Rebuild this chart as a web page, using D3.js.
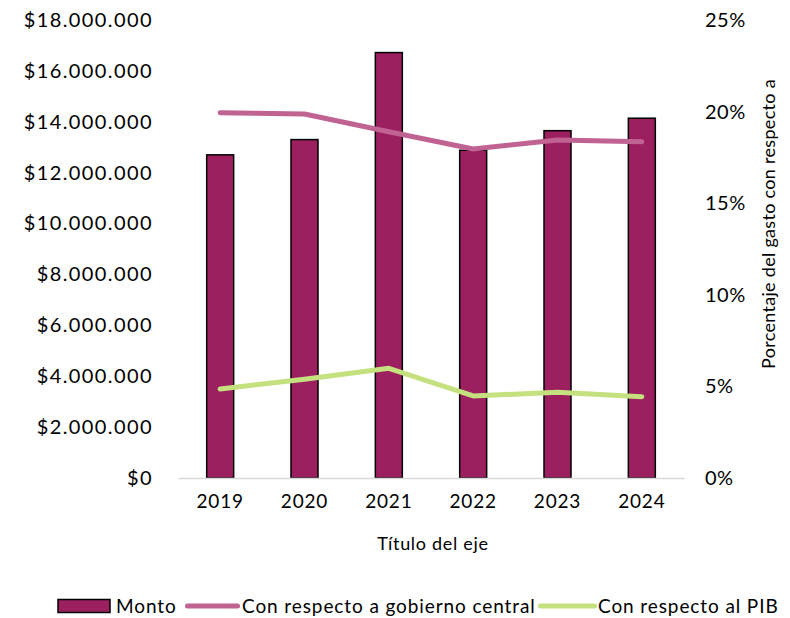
<!DOCTYPE html>
<html>
<head>
<meta charset="utf-8">
<script src="https://cdn.jsdelivr.net/npm/d3@7"></script>
<style>
  body { margin: 0; background: #fff; }
  svg text { font-family: Lato, "Open Sans", sans-serif; fill: #000; }
</style>
</head>
<body>
<svg id="chart" width="790" height="618"></svg>
<script>
const years = ["2019", "2020", "2021", "2022", "2023", "2024"];
const monto = [12700000, 13300000, 16720000, 12880000, 13650000, 14140000];
const pctGobierno = [0.1994, 0.1987, 0.189, 0.1796, 0.1845, 0.1836];
const pctPIB = [0.0486, 0.0539, 0.0599, 0.0448, 0.0468, 0.0444];
const leftTicks = [0, 2e6, 4e6, 6e6, 8e6, 10e6, 12e6, 14e6, 16e6, 18e6];
const rightTicks = [0, 0.05, 0.10, 0.15, 0.20, 0.25];
const legendLabels = ["Monto", "Con respecto a gobierno central", "Con respecto al PIB"];

const colBar = "#9C1F60", colGob = "#C06292", colPIB = "#C5E17F";

const svg = d3.select("#chart");
const L = 178, R = 684, T = 20, B = 478;

const x = d3.scaleBand().domain(years).range([L, R]).paddingInner(0.68).paddingOuter(0.34);
const yL = d3.scaleLinear().domain([0, 18e6]).range([B, T]);
const yR = d3.scaleLinear().domain([0, 0.25]).range([B, T]);

const fmtMoney = v => "$" + d3.format(",")(v).replace(/,/g, ".");

// left axis labels
const gL = svg.append("g").attr("transform", `translate(${L},0)`)
  .call(d3.axisLeft(yL).tickValues(leftTicks).tickFormat(fmtMoney).tickSize(0).tickPadding(25));
gL.select(".domain").remove();
gL.selectAll("text").style("font-size", "20px").style("letter-spacing", "1.4px")
  .style("font-family", "Lato, sans-serif").attr("fill", "#000");

// right axis labels
const gR = svg.append("g").attr("transform", `translate(${R},0)`)
  .call(d3.axisRight(yR).tickValues(rightTicks).tickFormat(d3.format(".0%")).tickSize(0).tickPadding(21));
gR.select(".domain").remove();
gR.selectAll("text").style("font-size", "20px").style("letter-spacing", "0.5px")
  .style("font-family", "Lato, sans-serif").attr("fill", "#000");

// bars
svg.append("g").selectAll("rect").data(years).join("rect")
  .attr("x", d => x(d))
  .attr("y", (d, i) => yL(monto[i]))
  .attr("width", x.bandwidth())
  .attr("height", (d, i) => B - yL(monto[i]))
  .attr("fill", colBar)
  .attr("stroke", "#000")
  .attr("stroke-width", 1.5);

// x axis
const gX = svg.append("g").attr("transform", `translate(0,${B})`)
  .call(d3.axisBottom(x).tickSize(0).tickPadding(17));
gX.select(".domain").attr("stroke", "#d9d9d9").attr("stroke-width", 1.5);
gX.selectAll("text").style("font-size", "19px").style("letter-spacing", "0.8px")
  .style("font-family", "Lato, sans-serif").attr("fill", "#000");

// lines
const lineGen = arr => d3.line().x((d, i) => x(years[i]) + x.bandwidth() / 2).y(d => yR(d))(arr);
svg.append("path").attr("d", lineGen(pctGobierno)).attr("fill", "none")
  .attr("stroke", colGob).attr("stroke-width", 5).attr("stroke-linecap", "round").attr("stroke-linejoin", "round");
svg.append("path").attr("d", lineGen(pctPIB)).attr("fill", "none")
  .attr("stroke", colPIB).attr("stroke-width", 5).attr("stroke-linecap", "round").attr("stroke-linejoin", "round");

// axis titles
svg.append("text").attr("x", 433).attr("y", 550).attr("text-anchor", "middle")
  .style("font-size", "18px").style("letter-spacing", "0.7px").text("Título del eje");
svg.append("text").attr("transform", `translate(775,224) rotate(-90)`).attr("text-anchor", "middle")
  .style("font-size", "18px").style("letter-spacing", "0.3px").text("Porcentaje del gasto con respecto a");

// legend
const lg = svg.append("g");
const ly = 606;
const lgFont = "19px", lgLS = "0.9px";
lg.append("rect").attr("x", 58).attr("y", ly - 6.5).attr("width", 52).attr("height", 13)
  .attr("fill", colBar).attr("stroke", "#000").attr("stroke-width", 1.5);
lg.append("text").attr("x", 116).attr("y", ly + 6.5).style("font-size", lgFont).style("letter-spacing", lgLS).text(legendLabels[0]);
lg.append("line").attr("x1", 187.5).attr("x2", 237.5).attr("y1", ly).attr("y2", ly)
  .attr("stroke", colGob).attr("stroke-width", 5).attr("stroke-linecap", "round");
lg.append("text").attr("x", 242).attr("y", ly + 6.5).style("font-size", lgFont).style("letter-spacing", lgLS).text(legendLabels[1]);
lg.append("line").attr("x1", 540.5).attr("x2", 594.5).attr("y1", ly).attr("y2", ly)
  .attr("stroke", colPIB).attr("stroke-width", 5).attr("stroke-linecap", "round");
lg.append("text").attr("x", 598).attr("y", ly + 6.5).style("font-size", lgFont).style("letter-spacing", lgLS).text(legendLabels[2]);
</script>
</body>
</html>
